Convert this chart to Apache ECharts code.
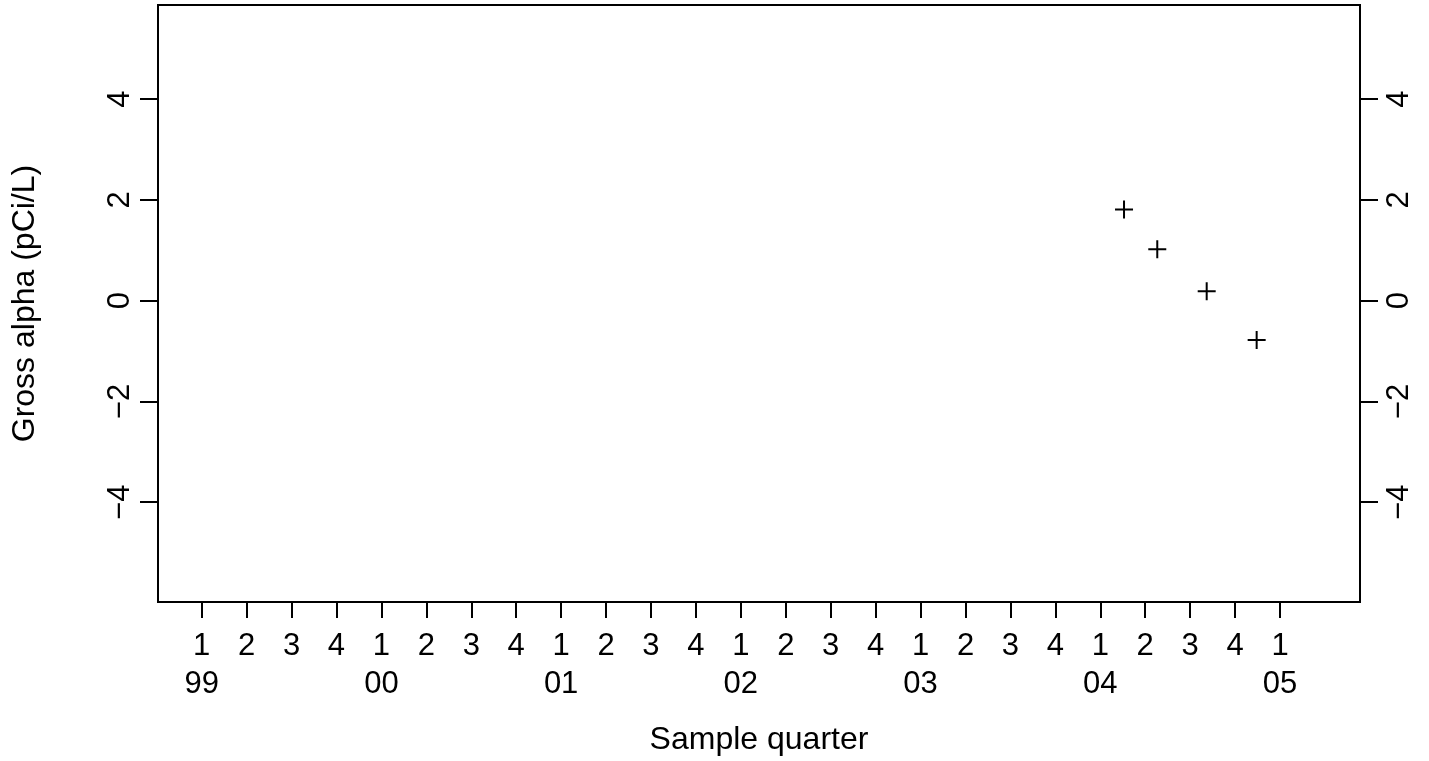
<!DOCTYPE html>
<html>
<head>
<meta charset="utf-8">
<script src="https://cdn.jsdelivr.net/npm/echarts@6/dist/echarts.min.js"></script>
<style>
html,body{margin:0;padding:0;background:#fff;}
#chart{width:1429px;height:761px;}
</style>
</head>
<body>
<div id="chart"></div>
<script>
// ---- data ----
const yearLabels = ['99', '00', '01', '02', '03', '04', '05'];
const quarterLabels = ['1', '2', '3', '4'];
const sampleTime = [2004.132, 2004.317, 2004.592, 2004.870];   // decimal year
const grossAlpha = [1.81, 1.02, 0.19, -0.78];                  // pCi/L
const yTicks = [-4, -2, 0, 2, 4];
const xTitle = 'Sample quarter';
const yTitle = 'Gross alpha (pCi/L)';

// ---- build tick table (quarter positions in decimal years) ----
const firstYear = 1999;
const xTicks = [];
const xTickText = {};
yearLabels.forEach(function (yl, yi) {
  const nq = (yi === yearLabels.length - 1) ? 1 : 4;
  for (let q = 0; q < nq; q++) {
    const v = firstYear + yi + q / 4;
    xTicks.push(v);
    xTickText[v] = quarterLabels[q] + (q === 0 ? '\n' + yl : '');
  }
});

const FONT = '"Liberation Sans", Arial, Helvetica, sans-serif';
const FS = 31;      // tick labels
const FS_T = 32;    // axis titles
const fmtMinus = v => (v < 0 ? '\u2212' + Math.abs(v) : String(v));

const chart = echarts.init(document.getElementById('chart'), null, {renderer: 'canvas'});
const yAxisBase = {
  type: 'value',
  min: -5.98,
  max: 5.87,
  splitLine: {show: false},
  axisLine: {show: false, onZero: false},
  axisTick: {show: true, length: 18, customValues: yTicks, lineStyle: {color: '#000', width: 2}},
  axisLabel: {
    show: true, customValues: yTicks, rotate: 90, formatter: fmtMinus,
    color: '#000', fontSize: FS, fontFamily: FONT, align: 'center', verticalAlign: 'middle'
  }
};
chart.setOption({
  animation: false,
  backgroundColor: '#fff',
  grid: {
    left: 158, right: 69, top: 5, bottom: 159,
    show: true, borderColor: '#000', borderWidth: 2, backgroundColor: 'transparent'
  },
  xAxis: {
    type: 'value',
    min: 1998.757,
    max: 2005.445,
    splitLine: {show: false},
    axisLine: {show: false, onZero: false},
    axisTick: {show: true, length: 16, customValues: xTicks, lineStyle: {color: '#000', width: 2}},
    axisLabel: {
      show: true, customValues: xTicks, margin: 25,
      formatter: v => xTickText[v] !== undefined ? xTickText[v] : '',
      color: '#000', fontSize: FS, fontFamily: FONT, lineHeight: 38
    },
    name: xTitle, nameLocation: 'middle', nameGap: 122,
    nameTextStyle: {color: '#000', fontSize: FS_T, fontFamily: FONT}
  },
  yAxis: [
    Object.assign({}, yAxisBase, {
      position: 'left',
      axisLabel: Object.assign({}, yAxisBase.axisLabel, {margin: 38}),
      name: yTitle, nameLocation: 'middle', nameGap: 117,
      nameTextStyle: {color: '#000', fontSize: FS_T, fontFamily: FONT}
    }),
    Object.assign({}, yAxisBase, {
      position: 'right',
      axisLabel: Object.assign({}, yAxisBase.axisLabel, {margin: 39})
    })
  ],
  series: [{
    type: 'scatter',
    yAxisIndex: 0,
    data: sampleTime.map((t, i) => [t, grossAlpha[i]]),
    symbol: 'path://M0,-10L0,10M-10,0L10,0',
    symbolSize: 18,
    itemStyle: {color: 'none', borderColor: '#000', borderWidth: 2, opacity: 1},
    emphasis: {disabled: true}
  }]
});
</script>
</body>
</html>
